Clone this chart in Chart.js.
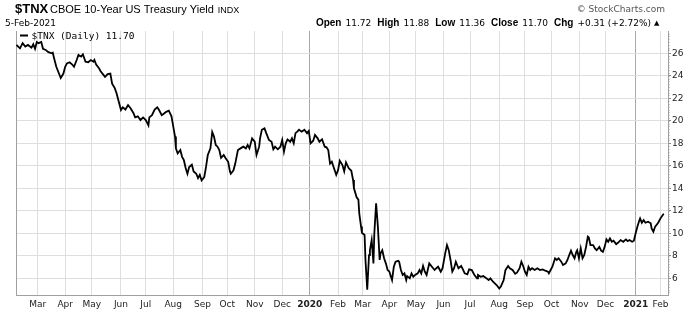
<!DOCTYPE html>
<html>
<head>
<meta charset="utf-8">
<script src="https://cdn.jsdelivr.net/npm/chart.js@4.4.1/dist/chart.umd.min.js"></script>
<style>
  html, body { margin: 0; padding: 0; background: #fff; }
  canvas { display: block; }
</style>
</head>
<body>
<canvas id="tnx" width="700" height="312"></canvas>
<script>
// $TNX daily close (roughly every 2-3 days)
const dates = [
  '2019-02-05','2019-02-09','2019-02-12','2019-02-15','2019-02-18','2019-02-22','2019-02-24','2019-02-26','2019-02-28',
  '2019-03-02','2019-03-05','2019-03-07','2019-03-10','2019-03-13','2019-03-17','2019-03-18','2019-03-20','2019-03-22','2019-03-24','2019-03-27','2019-03-30',
  '2019-04-01','2019-04-03','2019-04-06','2019-04-09','2019-04-11','2019-04-14','2019-04-16','2019-04-19','2019-04-21','2019-04-24','2019-04-27','2019-04-30',
  '2019-05-03','2019-05-04','2019-05-06','2019-05-09','2019-05-11','2019-05-14','2019-05-16','2019-05-19','2019-05-22','2019-05-24','2019-05-27','2019-05-29','2019-05-31',
  '2019-06-03','2019-06-05','2019-06-08','2019-06-11','2019-06-14','2019-06-17','2019-06-19','2019-06-22','2019-06-25','2019-06-28',
  '2019-07-01','2019-07-04','2019-07-05','2019-07-08','2019-07-11','2019-07-14','2019-07-16','2019-07-19','2019-07-21','2019-07-24','2019-07-27','2019-07-30',
  '2019-08-01','2019-08-03','2019-08-04','2019-08-06','2019-08-09','2019-08-11','2019-08-13','2019-08-15','2019-08-17','2019-08-19','2019-08-22','2019-08-24','2019-08-27','2019-08-29','2019-08-31',
  '2019-09-02','2019-09-05','2019-09-07','2019-09-09','2019-09-12','2019-09-14','2019-09-16','2019-09-18','2019-09-20','2019-09-22','2019-09-24','2019-09-27','2019-09-29',
  '2019-10-02','2019-10-04','2019-10-05','2019-10-08','2019-10-10','2019-10-13','2019-10-16','2019-10-19','2019-10-22','2019-10-24','2019-10-26','2019-10-29',
  '2019-11-01','2019-11-03','2019-11-06','2019-11-07','2019-11-09','2019-11-12','2019-11-14','2019-11-17','2019-11-20','2019-11-22','2019-11-24','2019-11-27','2019-11-30',
  '2019-12-02','2019-12-04','2019-12-06','2019-12-08','2019-12-11','2019-12-13','2019-12-15','2019-12-17','2019-12-19','2019-12-21','2019-12-24','2019-12-27','2019-12-30',
  '2020-01-01','2020-01-03','2020-01-06','2020-01-08','2020-01-11','2020-01-13','2020-01-16','2020-01-19','2020-01-21','2020-01-23','2020-01-25','2020-01-27','2020-01-29',
  '2020-02-01','2020-02-03','2020-02-05','2020-02-08','2020-02-10','2020-02-12','2020-02-15','2020-02-18','2020-02-20','2020-02-21','2020-02-24','2020-02-26','2020-02-27','2020-02-29',
  '2020-03-01','2020-03-04','2020-03-05','2020-03-07','2020-03-09','2020-03-10','2020-03-12','2020-03-14','2020-03-15','2020-03-17','2020-03-19','2020-03-21','2020-03-22','2020-03-24','2020-03-26','2020-03-28','2020-03-30',
  '2020-04-01','2020-04-04','2020-04-06','2020-04-08','2020-04-11','2020-04-12','2020-04-14','2020-04-16','2020-04-18','2020-04-20','2020-04-21','2020-04-24','2020-04-26','2020-04-28','2020-04-30',
  '2020-05-03','2020-05-05','2020-05-07','2020-05-09','2020-05-11','2020-05-13','2020-05-16','2020-05-19','2020-05-22','2020-05-24','2020-05-26','2020-05-29','2020-05-31',
  '2020-06-03','2020-06-05','2020-06-07','2020-06-09','2020-06-11','2020-06-13','2020-06-15','2020-06-18','2020-06-21','2020-06-23','2020-06-25','2020-06-28','2020-06-30',
  '2020-07-03','2020-07-06','2020-07-09','2020-07-10','2020-07-13','2020-07-16','2020-07-19','2020-07-22','2020-07-24','2020-07-27','2020-07-29','2020-07-31',
  '2020-08-03','2020-08-05','2020-08-08','2020-08-10','2020-08-13','2020-08-15','2020-08-18','2020-08-21','2020-08-23','2020-08-26','2020-08-28','2020-08-30',
  '2020-09-01','2020-09-03','2020-09-05','2020-09-07','2020-09-09','2020-09-12','2020-09-15','2020-09-18','2020-09-21','2020-09-24','2020-09-27','2020-09-28','2020-09-30',
  '2020-10-02','2020-10-05','2020-10-07','2020-10-09','2020-10-12','2020-10-14','2020-10-17','2020-10-19','2020-10-21','2020-10-23','2020-10-25','2020-10-27','2020-10-29','2020-10-30',
  '2020-11-01','2020-11-03','2020-11-05','2020-11-07','2020-11-09','2020-11-11','2020-11-12','2020-11-14','2020-11-17','2020-11-19','2020-11-21','2020-11-24','2020-11-26','2020-11-28','2020-11-30',
  '2020-12-02','2020-12-04','2020-12-06','2020-12-08','2020-12-10','2020-12-13','2020-12-15','2020-12-18','2020-12-21','2020-12-24','2020-12-26','2020-12-28','2020-12-31',
  '2021-01-02','2021-01-04','2021-01-06','2021-01-08','2021-01-09','2021-01-11','2021-01-13','2021-01-15','2021-01-18','2021-01-21','2021-01-22','2021-01-24','2021-01-26','2021-01-29','2021-01-30',
  '2021-02-01','2021-02-04','2021-02-05'
];
const yields = [
  26.74,26.44,26.90,26.60,26.74,26.50,26.80,26.40,27.00,
  26.90,27.00,26.40,26.30,26.10,26.00,26.05,25.40,24.80,24.40,23.80,24.20,
  24.80,25.10,25.20,25.00,24.80,25.40,25.85,25.70,25.90,25.25,25.20,25.40,
  25.25,25.40,25.00,24.70,24.40,24.10,23.90,24.15,24.20,23.30,22.90,22.45,21.85,
  20.96,21.20,21.00,21.40,21.10,20.70,20.30,20.40,20.07,20.30,
  20.07,19.60,20.30,20.50,21.00,21.20,20.96,20.50,20.60,20.80,20.90,20.40,
  19.50,18.60,17.55,17.10,17.40,16.80,16.50,15.80,15.30,15.90,16.10,15.50,15.30,14.90,15.20,
  14.70,15.00,15.90,16.96,17.55,19.00,18.60,17.85,17.70,17.40,16.70,16.96,16.70,
  16.36,15.50,15.30,15.60,16.20,17.40,17.55,17.70,17.55,17.85,17.55,18.44,
  18.14,16.96,17.70,18.44,19.20,19.33,18.90,18.30,18.14,17.47,17.70,17.47,17.70,
  18.30,17.25,18.00,18.35,18.14,18.44,18.00,18.90,19.03,19.20,19.03,19.20,18.90,
  19.10,18.00,18.23,18.74,18.44,18.14,18.35,17.70,17.64,17.40,16.20,16.36,15.90,
  15.20,15.60,16.45,16.07,15.50,16.30,15.80,15.56,14.74,14.00,13.20,13.00,11.78,10.60,
  10.05,9.85,7.63,5.00,8.07,8.50,9.40,7.33,10.00,12.67,10.60,7.63,8.22,8.50,7.78,7.33,6.74,
  6.59,5.85,7.03,7.48,7.56,7.48,6.74,6.30,6.44,5.85,6.20,6.00,6.44,6.14,6.30,
  6.44,6.74,6.44,7.10,6.59,6.30,7.33,7.03,6.74,6.90,7.03,6.59,6.90,
  8.22,8.96,8.50,7.63,6.59,6.90,7.48,6.90,7.10,6.80,6.44,6.36,6.80,
  6.74,6.30,6.00,6.30,6.14,6.20,6.04,5.85,6.00,5.70,5.56,5.41,
  5.10,5.30,5.85,6.74,7.10,6.90,6.74,6.40,6.50,6.90,7.48,7.10,
  6.59,6.30,7.03,6.74,6.90,6.74,6.90,6.74,6.80,6.68,6.59,6.44,6.74,
  7.03,7.78,7.63,7.78,7.48,7.18,7.33,7.63,8.07,8.46,8.07,7.78,8.36,8.50,
  7.78,8.66,7.78,8.07,8.80,9.70,9.64,8.96,8.96,8.66,8.50,8.80,8.46,8.36,8.80,
  9.46,9.25,9.55,9.25,9.34,9.04,9.16,9.40,9.25,9.46,9.30,9.40,9.25,
  9.34,10.00,10.60,11.12,11.33,10.94,11.18,10.94,11.03,10.90,10.44,10.14,10.60,10.90,11.03,
  11.33,11.68,11.70
];

// first trading day of each month -> vertical grid + label
const monthStarts = [
  '2019-03-01','2019-04-01','2019-05-01','2019-06-03','2019-07-01','2019-08-01','2019-09-03','2019-10-01','2019-11-01','2019-12-02',
  '2020-01-02','2020-02-03','2020-03-02','2020-04-01','2020-05-01','2020-06-01','2020-07-01','2020-08-03','2020-09-01','2020-10-01','2020-11-02','2020-12-01',
  '2021-01-04','2021-02-01'
];
const monthLabels = ['Mar','Apr','May','Jun','Jul','Aug','Sep','Oct','Nov','Dec',
  '2020','Feb','Mar','Apr','May','Jun','Jul','Aug','Sep','Oct','Nov','Dec','2021','Feb'];
const yTicks = [6, 8, 10, 12, 14, 16, 18, 20, 22, 24, 26];

const quoteLabels = ['Open', 'High', 'Low', 'Close', 'Chg'];
const quoteValues = ['11.72', '11.88', '11.36', '11.70', '+0.31 (+2.72%)'];

if (dates.length !== yields.length) console.error('dates/yields length mismatch', dates.length, yields.length);

const toDay = s => Date.parse(s + 'T00:00:00Z') / 864e5;
const isYear = i => /^\d{4}$/.test(monthLabels[i] || '');

const firstDay = toDay(dates[0]);
const lastDay = toDay(dates[dates.length - 1]);

const headerPlugin = {
  id: 'header',
  beforeDatasetsDraw(chart) {
    const { ctx, chartArea: a } = chart;
    const ys = chart.scales.y;
    ctx.save();
    ctx.strokeStyle = '#a0a0a0';
    ctx.lineWidth = 1;
    ctx.beginPath();
    ctx.moveTo(a.left + 0.5, a.top);
    ctx.lineTo(a.left + 0.5, a.bottom);
    ctx.stroke();
    // minor ticks on the price axis
    ctx.strokeStyle = '#9a9a9a';
    ctx.beginPath();
    for (let v = Math.ceil(ys.min * 4) / 4; v <= ys.max; v += 0.25) {
      const y = Math.round(ys.getPixelForValue(v)) + 0.5;
      ctx.moveTo(a.right, y);
      ctx.lineTo(a.right + 1.5, y);
    }
    ctx.stroke();
    ctx.restore();
  },
  afterDraw(chart) {
    const ctx = chart.ctx;
    ctx.save();
    ctx.textBaseline = 'alphabetic';
    ctx.fillStyle = '#000';

    // title line
    ctx.font = 'bold 13px "Liberation Sans", Arial, sans-serif';
    ctx.fillText('$TNX', 15, 13);
    ctx.font = '11px "Liberation Sans", Arial, sans-serif';
    ctx.fillText('CBOE 10-Year US Treasury Yield', 50, 12.5);
    let w = ctx.measureText('CBOE 10-Year US Treasury Yield').width;
    ctx.font = '9px "Liberation Sans", Arial, sans-serif';
    ctx.fillText('INDX', 50 + w + 4, 12.5);

    ctx.font = '9px "DejaVu Sans", Verdana, sans-serif';
    ctx.fillText('5-Feb-2021', 5, 26);

    ctx.fillStyle = '#555';
    ctx.textAlign = 'right';
    ctx.fillText('\u00A9 StockCharts.com', 665, 12);
    ctx.textAlign = 'left';

    // quote line, right aligned
    const lblFont = 'bold 10px "Liberation Sans", Arial, sans-serif';
    const valFont = '9px "DejaVu Sans", Verdana, sans-serif';
    const parts = [];
    quoteLabels.forEach((l, i) => {
      parts.push([l, lblFont, 4]);
      parts.push([quoteValues[i], valFont, 6]);
    });
    let total = 0;
    parts.forEach(p => { ctx.font = p[1]; total += ctx.measureText(p[0]).width + p[2]; });
    let x = 657 - total;
    ctx.fillStyle = '#000';
    parts.forEach(p => {
      ctx.font = p[1];
      ctx.fillText(p[0], x, 26);
      x += ctx.measureText(p[0]).width + p[2];
    });
    ctx.font = '7px "DejaVu Sans", sans-serif';
    ctx.fillText('\u25B2', x - 3, 25);

    // legend inside plot
    ctx.strokeStyle = '#000';
    ctx.lineWidth = 2;
    ctx.beginPath();
    ctx.moveTo(20, 35.5);
    ctx.lineTo(28, 35.5);
    ctx.stroke();
    ctx.font = '9.5px "DejaVu Sans Mono", monospace';
    ctx.fillText('$TNX (Daily) ' + yields[yields.length - 1].toFixed(2), 31.5, 39);
    ctx.restore();
  }
};

new Chart(document.getElementById('tnx'), {
  type: 'line',
  data: {
    datasets: [{
      label: '$TNX (Daily)',
      data: dates.map((d, i) => ({ x: toDay(d), y: yields[i] })),
      borderColor: '#000',
      borderWidth: 1.8,
      pointRadius: 0,
      tension: 0,
      fill: false
    }]
  },
  options: {
    responsive: false,
    animation: false,
    devicePixelRatio: 1,
    layout: { padding: { left: 16, top: 31, right: 0, bottom: 0 } },
    plugins: { legend: { display: false }, tooltip: { enabled: false } },
    scales: {
      x: {
        type: 'linear',
        min: firstDay - 0.5,
        max: lastDay + 4.5,
        afterBuildTicks: s => { s.ticks = monthStarts.map(d => ({ value: toDay(d) })); },
        afterFit: s => { s.height = 17; },
        grid: {
          color: c => isYear(c.index) ? '#a8a8a8' : '#dedede',
          drawTicks: false
        },
        border: { color: '#a0a0a0' },
        ticks: {
          autoSkip: false,
          maxRotation: 0,
          padding: 4,
          color: '#222',
          font: c => ({ family: 'DejaVu Sans', size: 9, weight: isYear(c.index) ? 'bold' : 'normal' }),
          callback: (v, i) => monthLabels[i]
        }
      },
      y: {
        position: 'right',
        min: 4.52,
        max: 27.98,
        afterBuildTicks: s => { s.ticks = yTicks.map(v => ({ value: v })); },
        afterFit: s => { s.width = 32; },
        grid: { color: '#dedede', tickColor: '#888', tickLength: 3 },
        border: { color: '#a0a0a0' },
        ticks: { padding: 1, color: '#222', font: { family: 'DejaVu Sans', size: 9 } }
      }
    }
  },
  plugins: [headerPlugin]
});
</script>
</body>
</html>
